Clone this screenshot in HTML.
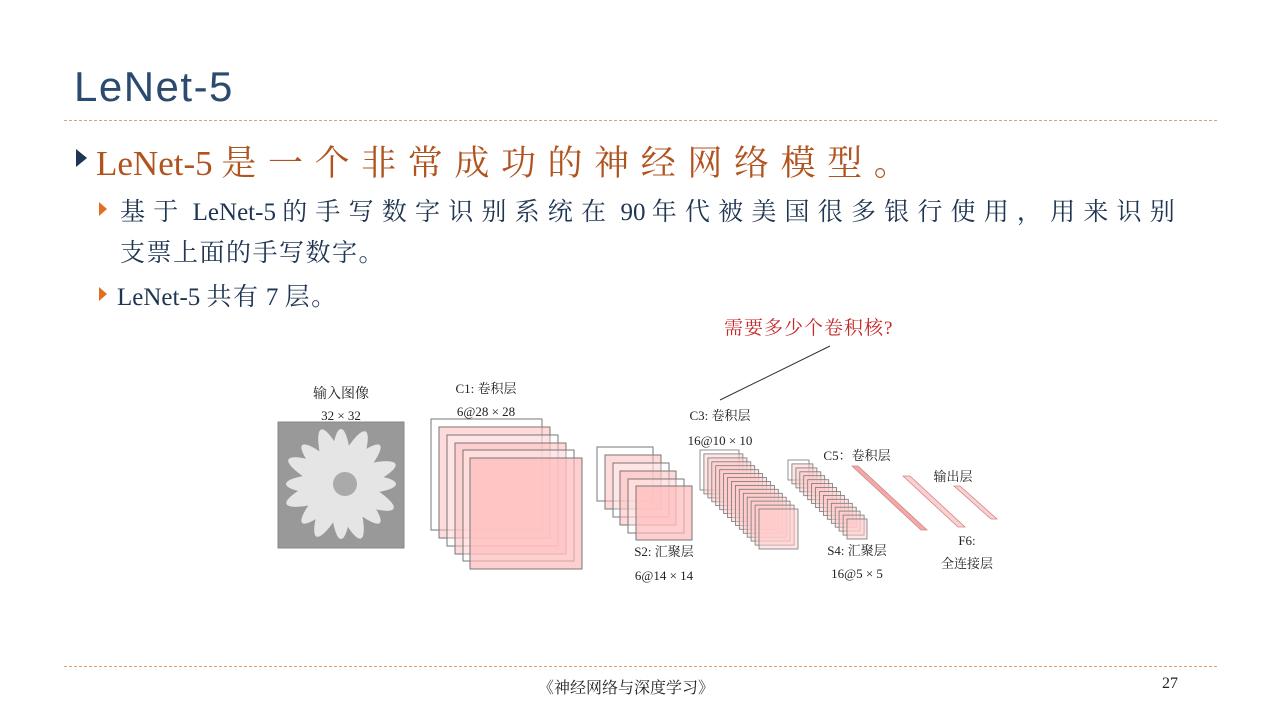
<!DOCTYPE html>
<html><head><meta charset="utf-8"><style>
body{margin:0;width:1280px;height:720px;background:#fff;position:relative;overflow:hidden;font-family:"Liberation Serif","Noto Serif CJK SC",serif}
.a{position:absolute;white-space:nowrap}
.dash{position:absolute;left:64px;width:1153px;border-top:1px dashed #e0a070}
.m .c{letter-spacing:11.6px}
.s1 .c{letter-spacing:8.2px}
.s2 .c{letter-spacing:1.5px}
</style></head><body>
<div class="a" style="left:74px;top:63px;font:42px 'Liberation Sans','Noto Sans CJK SC',sans-serif;letter-spacing:1.5px;color:#2a4a70">LeNet-5</div>
<div class="dash" style="top:120px"></div>
<div class="a" style="left:76px;top:149px;width:0;height:0;border-left:11px solid #1f3552;border-top:9px solid transparent;border-bottom:9px solid transparent"></div>
<div class="a m" style="left:96px;top:136px;font-size:35px;color:#b0531e">LeNet-5&nbsp;<span class="c">是一个非常成功的神经网络模型。</span></div>
<div class="a" style="left:99px;top:202px;width:0;height:0;border-left:8px solid #e07020;border-top:7px solid transparent;border-bottom:7px solid transparent"></div>
<div class="a s1" style="left:120px;top:192px;font-size:25px;color:#1f3552"><span class="c">基于</span> LeNet-5 <span class="c">的手写数字识别系统在</span> 90 <span class="c">年代被美国很多银行使用，用来识别</span></div>
<div class="a s2" style="left:120px;top:233px;font-size:25px;color:#1f3552"><span class="c">支票上面的手写数字。</span></div>
<div class="a" style="left:99px;top:287px;width:0;height:0;border-left:8px solid #e07020;border-top:7px solid transparent;border-bottom:7px solid transparent"></div>
<div class="a s2" style="left:117px;top:277px;font-size:25px;color:#1f3552">LeNet-5 <span class="c">共有</span> 7 <span class="c">层。</span></div>
<div class="a" style="left:724px;top:313px;font-size:19px;color:#c82828;letter-spacing:1px">需要多少个卷积核?</div>
<svg class="a" style="left:0;top:0" width="1280" height="720" font-family="Liberation Serif,Noto Serif CJK SC,serif" font-size="13" fill="#222">
<line x1="830" y1="346" x2="720" y2="400" stroke="#333" stroke-width="1"/>
<text x="341" y="398" text-anchor="middle" font-size="14">输入图像</text>
<text x="341" y="420" text-anchor="middle">32 × 32</text>
<rect x="278" y="422" width="126" height="126" fill="#999" stroke="#888"/>
<g fill="#eee" opacity="0.9">
<ellipse cx="341" cy="484" rx="58" ry="12" transform="rotate(-20 341 484)"/>
<ellipse cx="341" cy="484" rx="58" ry="12" transform="rotate(25 341 484)"/>
<ellipse cx="341" cy="484" rx="58" ry="12" transform="rotate(70 341 484)"/>
<ellipse cx="341" cy="484" rx="58" ry="12" transform="rotate(115 341 484)"/>
<ellipse cx="341" cy="484" rx="55" ry="11" transform="rotate(0 341 484)"/>
<ellipse cx="341" cy="484" rx="55" ry="11" transform="rotate(45 341 484)"/>
<ellipse cx="341" cy="484" rx="55" ry="11" transform="rotate(90 341 484)"/>
<ellipse cx="341" cy="484" rx="55" ry="11" transform="rotate(135 341 484)"/>
</g>
<circle cx="345" cy="484" r="12" fill="#aaa"/>
<text x="486" y="393" text-anchor="middle">C1: 卷积层</text>
<text x="486" y="416" text-anchor="middle">6@28 × 28</text>
<g stroke="#777" stroke-width="1">
<rect x="431" y="419" width="111" height="111" fill="#fff" fill-opacity="0.3"/>
<rect x="439" y="427" width="111" height="111" fill="#fbb" fill-opacity="0.55"/>
<rect x="447" y="435" width="111" height="111" fill="#fff" fill-opacity="0.3"/>
<rect x="455" y="443" width="111" height="111" fill="#fbb" fill-opacity="0.55"/>
<rect x="463" y="450" width="111" height="111" fill="#fff" fill-opacity="0.3"/>
<rect x="470" y="458" width="112" height="111" fill="#fbb" fill-opacity="0.7"/>
<rect x="597" y="447" width="56" height="54" fill="#fff" fill-opacity="0.3"/>
<rect x="605" y="455" width="56" height="54" fill="#fbb" fill-opacity="0.55"/>
<rect x="613" y="463" width="56" height="54" fill="#fff" fill-opacity="0.3"/>
<rect x="620" y="471" width="56" height="54" fill="#fbb" fill-opacity="0.55"/>
<rect x="628" y="479" width="56" height="54" fill="#fff" fill-opacity="0.3"/>
<rect x="636" y="486" width="56" height="54" fill="#fbb" fill-opacity="0.7"/>
</g>
<text x="664" y="556" text-anchor="middle">S2: 汇聚层</text>
<text x="664" y="580" text-anchor="middle">6@14 × 14</text>
<text x="720" y="420" text-anchor="middle">C3: 卷积层</text>
<text x="720" y="445" text-anchor="middle">16@10 × 10</text>
<g stroke="#777" stroke-width="0.8" fill="#fcc" fill-opacity="0.5">
<rect x="700" y="450" width="39" height="40" fill="#fff"/>
<rect x="703.9" y="453.9" width="39" height="40"/>
<rect x="707.9" y="457.9" width="39" height="40"/>
<rect x="711.8" y="461.8" width="39" height="40"/>
<rect x="715.7" y="465.7" width="39" height="40"/>
<rect x="719.7" y="469.7" width="39" height="40"/>
<rect x="723.6" y="473.6" width="39" height="40"/>
<rect x="727.5" y="477.5" width="39" height="40"/>
<rect x="731.5" y="481.5" width="39" height="40"/>
<rect x="735.4" y="485.4" width="39" height="40"/>
<rect x="739.3" y="489.3" width="39" height="40"/>
<rect x="743.3" y="493.3" width="39" height="40"/>
<rect x="747.2" y="497.2" width="39" height="40"/>
<rect x="751.1" y="501.1" width="39" height="40"/>
<rect x="755.1" y="505.1" width="39" height="40"/>
<rect x="759" y="509" width="39" height="40"/>
<rect x="788" y="460" width="21" height="20" fill="#fff"/>
<rect x="791.9" y="463.9" width="21" height="20"/>
<rect x="795.9" y="467.9" width="21" height="20"/>
<rect x="799.8" y="471.8" width="21" height="20"/>
<rect x="803.7" y="475.7" width="21" height="20"/>
<rect x="807.7" y="479.7" width="21" height="20"/>
<rect x="811.6" y="483.6" width="21" height="20"/>
<rect x="815.5" y="487.5" width="21" height="20"/>
<rect x="819.5" y="491.5" width="21" height="20"/>
<rect x="823.4" y="495.4" width="21" height="20"/>
<rect x="827.3" y="499.3" width="21" height="20"/>
<rect x="831.3" y="503.3" width="21" height="20"/>
<rect x="835.2" y="507.2" width="21" height="20"/>
<rect x="839.1" y="511.1" width="21" height="20"/>
<rect x="843.1" y="515.1" width="21" height="20"/>
<rect x="847" y="519" width="20" height="20"/>
</g>
<text x="857" y="460" text-anchor="middle">C5：卷积层</text>
<text x="857" y="555" text-anchor="middle">S4: 汇聚层</text>
<text x="857" y="578" text-anchor="middle">16@5 × 5</text>
<g stroke="#c88" stroke-width="0.8">
<polygon points="852,466 858,466 927,530 921,530" fill="#f4a8a8"/>
<polygon points="903,476 910,476 965,527 958,527" fill="#fcd0d0"/>
<polygon points="954,486 960,486 997,519 991,519" fill="#fcd0d0"/>
</g>
<text x="953" y="481" text-anchor="middle">输出层</text>
<text x="967" y="545" text-anchor="middle">F6:</text>
<text x="967" y="568" text-anchor="middle">全连接层</text>
</svg>
<div class="dash" style="top:666px"></div>
<div class="a" style="left:538px;top:675px;font-size:16px;color:#222">《神经网络与深度学习》</div>
<div class="a" style="left:1162px;top:675px;font-size:16px;color:#222">27</div>
</body></html>
